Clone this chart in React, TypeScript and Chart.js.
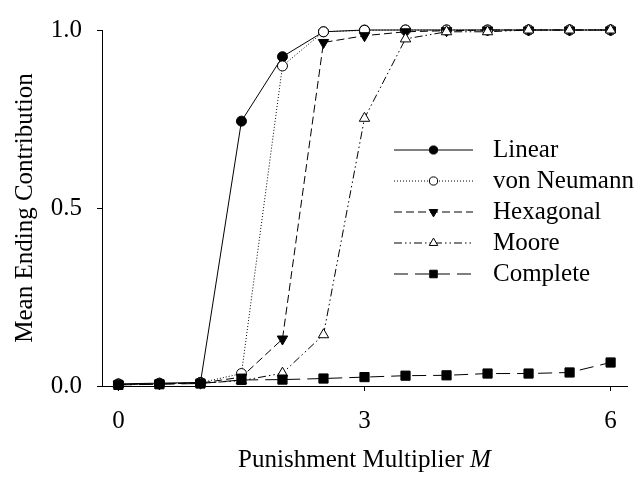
import React, { useEffect, useRef } from 'react';
import { Chart, registerables } from 'chart.js';
import { drawPoint } from 'chart.js/helpers';

Chart.register(...registerables);

// Punishment multiplier values on the x axis
const M_VALUES = [0, 0.5, 1, 1.5, 2, 2.5, 3, 3.5, 4, 4.5, 5, 5.5, 6];

// Mean ending contribution for each network topology
const LINEAR = [0.006, 0.008, 0.01, 0.744, 0.925, 0.995, 1.0, 1.0, 1.0, 1.0, 1.0, 1.0, 1.0];
const VON_NEUMANN = [0.004, 0.006, 0.009, 0.035, 0.899, 0.995, 0.999, 1.0, 1.0, 1.0, 1.0, 1.0, 1.0];
const HEXAGONAL = [0.004, 0.006, 0.008, 0.025, 0.132, 0.965, 0.984, 0.995, 0.998, 1.0, 1.0, 1.0, 1.0];
const MOORE = [0.004, 0.006, 0.008, 0.015, 0.036, 0.144, 0.752, 0.975, 0.995, 0.995, 1.0, 1.0, 1.0];
const COMPLETE = [0.003, 0.005, 0.007, 0.017, 0.018, 0.021, 0.025, 0.029, 0.03, 0.035, 0.035, 0.038, 0.066];

const SERIES_NAMES = ['Linear', 'von Neumann', 'Hexagonal', 'Moore', 'Complete'];
const SERIES_VALUES = [LINEAR, VON_NEUMANN, HEXAGONAL, MOORE, COMPLETE];

const X_TICKS = [0, 3, 6];
const Y_TICKS = [0, 0.5, 1];
const X_TITLE = 'Punishment Multiplier ';
const X_TITLE_VAR = 'M';
const Y_TITLE = 'Mean Ending Contribution';

const FONT_FAMILY = '"Liberation Serif", "Times New Roman", serif';
const FONT_SIZE = 25;

type SeriesStyle = {
  dash: number[];
  pointStyle: string;
  rotation: number;
  radius: number;
  fill: string;
};

const STYLES: SeriesStyle[] = [
  { dash: [], pointStyle: 'circle', rotation: 0, radius: 5, fill: '#000' },
  { dash: [1, 2], pointStyle: 'circle', rotation: 0, radius: 5, fill: '#fff' },
  { dash: [8, 4], pointStyle: 'triangle', rotation: 180, radius: 6, fill: '#000' },
  { dash: [8, 3, 1.5, 3, 1.5, 3], pointStyle: 'triangle', rotation: 0, radius: 6, fill: '#fff' },
  { dash: [14, 7], pointStyle: 'rect', rotation: 0, radius: 6.5, fill: '#000' },
];

// Legend placement inside the plot area; legend markers are drawn a bit smaller
const LEGEND = { lineStart: 394, lineEnd: 473, textX: 493, top: 150, step: 31, markerScale: 0.82 };

const legendPlugin = {
  id: 'lineMarkerLegend',
  afterDatasetsDraw(chart: any) {
    const ctx: CanvasRenderingContext2D = chart.ctx;
    ctx.save();
    SERIES_NAMES.forEach((name, i) => {
      const st = STYLES[i];
      const y = LEGEND.top + i * LEGEND.step;
      ctx.strokeStyle = '#000';
      ctx.lineWidth = 1;
      ctx.setLineDash(st.dash);
      ctx.beginPath();
      ctx.moveTo(LEGEND.lineStart, y);
      ctx.lineTo(LEGEND.lineEnd, y);
      ctx.stroke();
      ctx.setLineDash([]);
      ctx.fillStyle = st.fill;
      drawPoint(
        ctx,
        {
          pointStyle: st.pointStyle as any,
          rotation: st.rotation,
          radius: st.radius * LEGEND.markerScale,
          borderWidth: 1,
        },
        (LEGEND.lineStart + LEGEND.lineEnd) / 2,
        y
      );
      ctx.fillStyle = '#000';
      ctx.font = `${FONT_SIZE}px ${FONT_FAMILY}`;
      ctx.textAlign = 'left';
      ctx.textBaseline = 'middle';
      ctx.fillText(name, LEGEND.textX, y);
    });
    ctx.restore();
  },
};

// X axis title with an italic variable name
const xTitlePlugin = {
  id: 'xTitleItalic',
  afterDraw(chart: any) {
    const ctx: CanvasRenderingContext2D = chart.ctx;
    const area = chart.chartArea;
    const cx = (area.left + area.right) / 2;
    const y = 460;
    ctx.save();
    const normalFont = `${FONT_SIZE}px ${FONT_FAMILY}`;
    const italicFont = `italic ${FONT_SIZE}px ${FONT_FAMILY}`;
    ctx.font = normalFont;
    const w1 = ctx.measureText(X_TITLE).width;
    ctx.font = italicFont;
    const w2 = ctx.measureText(X_TITLE_VAR).width;
    const x0 = cx - (w1 + w2) / 2;
    ctx.fillStyle = '#000';
    ctx.textAlign = 'left';
    ctx.textBaseline = 'middle';
    ctx.font = normalFont;
    ctx.fillText(X_TITLE, x0, y);
    ctx.font = italicFont;
    ctx.fillText(X_TITLE_VAR, x0 + w1, y);
    ctx.restore();
  },
};

export default function App() {
  const canvasRef = useRef<HTMLCanvasElement | null>(null);

  useEffect(() => {
    if (!canvasRef.current) return;
    const datasets = SERIES_NAMES.map((name, i) => {
      const st = STYLES[i];
      return {
        label: name,
        data: M_VALUES.map((m, j) => ({ x: m, y: SERIES_VALUES[i][j] })),
        borderColor: '#000',
        borderWidth: 1,
        borderDash: st.dash,
        backgroundColor: st.fill,
        pointBackgroundColor: st.fill,
        pointBorderColor: '#000',
        pointBorderWidth: 1,
        pointStyle: st.pointStyle,
        pointRotation: st.rotation,
        pointRadius: st.radius,
        tension: 0,
        fill: false,
        clip: false,
        order: SERIES_NAMES.length - i,
      };
    });

    const tickFont = { family: FONT_FAMILY, size: FONT_SIZE, lineHeight: 1.2 };

    const chart = new Chart(canvasRef.current, {
      type: 'line',
      data: { datasets: datasets as any },
      options: {
        animation: false,
        responsive: false,
        devicePixelRatio: 1,
        layout: { padding: { top: 19, right: 16, left: 0, bottom: 0 } },
        plugins: {
          legend: { display: false },
          tooltip: { enabled: false },
        },
        scales: {
          x: {
            type: 'linear',
            min: -0.2,
            max: 6.2,
            afterBuildTicks: (scale: any) => {
              scale.ticks = X_TICKS.map((v) => ({ value: v }));
            },
            afterFit: (scale: any) => {
              scale.height = 95;
            },
            ticks: {
              color: '#000',
              font: tickFont,
              padding: 15,
              maxRotation: 0,
              callback: (v: any) => String(v),
            },
            grid: {
              display: true,
              drawOnChartArea: false,
              drawTicks: true,
              tickLength: 5,
              color: '#000',
            },
            border: { display: true, color: '#000', width: 1 },
          },
          y: {
            type: 'linear',
            min: 0,
            max: 1,
            afterBuildTicks: (scale: any) => {
              scale.ticks = Y_TICKS.map((v) => ({ value: v }));
            },
            afterFit: (scale: any) => {
              scale.width = 102;
            },
            ticks: {
              color: '#000',
              font: tickFont,
              padding: 15,
              callback: (v: any) => Number(v).toFixed(1),
            },
            grid: {
              display: true,
              drawOnChartArea: false,
              drawTicks: true,
              tickLength: 5,
              color: '#000',
            },
            border: { display: true, color: '#000', width: 1 },
            title: {
              display: true,
              text: Y_TITLE,
              color: '#000',
              font: { family: FONT_FAMILY, size: FONT_SIZE, lineHeight: 1 },
              padding: { top: 13, bottom: 0 },
            },
          },
        },
      },
      plugins: [legendPlugin, xTitlePlugin],
    } as any);

    return () => chart.destroy();
  }, []);

  return (
    <div style={{ position: 'fixed', left: 0, top: 0, width: 643, height: 481, background: '#fff' }}>
      <canvas ref={canvasRef} width={643} height={481} />
    </div>
  );
}
